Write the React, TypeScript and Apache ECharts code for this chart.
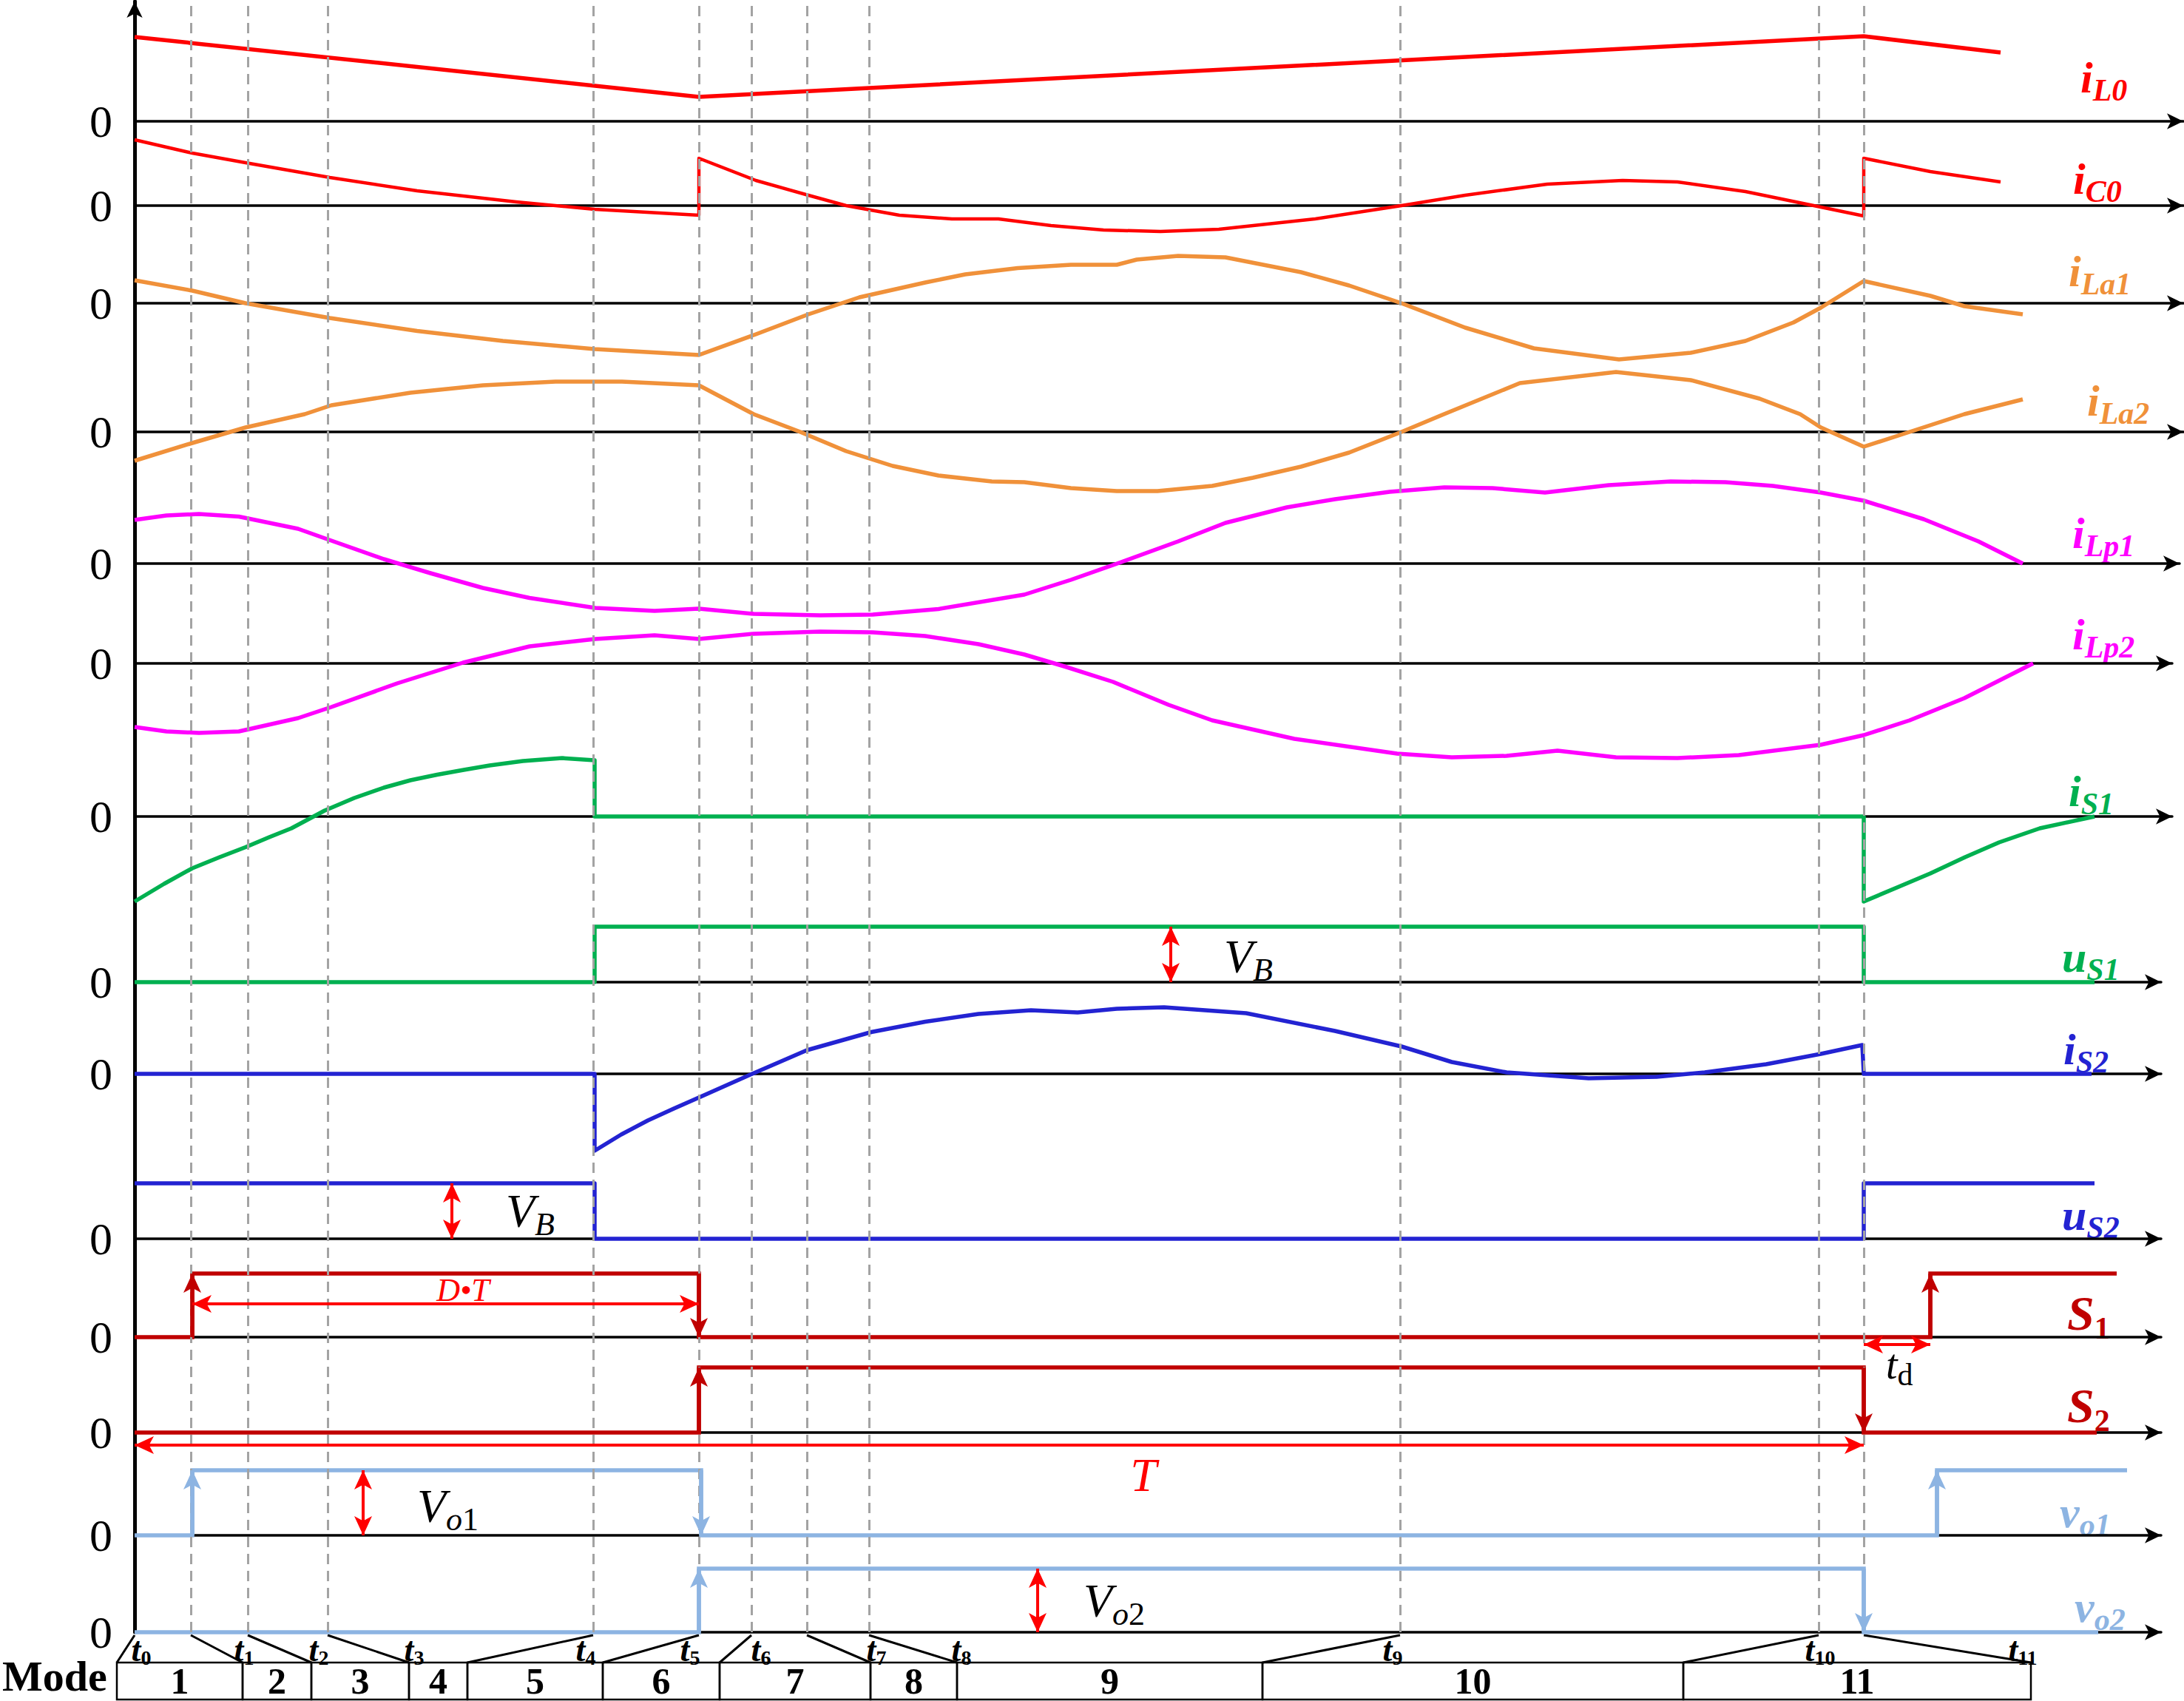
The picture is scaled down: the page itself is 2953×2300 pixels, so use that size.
import React, { useEffect, useRef } from 'react';
import * as echarts from 'echarts';

const W = 2953;
const H = 2300;
const FONT = '"Liberation Serif", "Times New Roman", Times, serif';

// ---------- data (time units on x, amplitude units on y; one unit = 10 px) ----------
// switching instants t0..t11
const tInstants = [0, 7.6, 15.3, 26.1, 62.0, 76.3, 83.4, 90.9, 99.3, 171.1, 227.7, 233.8];
const tNames = ['0', '1', '2', '3', '4', '5', '6', '7', '8', '9', '10', '11'];
// operating-mode table boundaries and names
const modeBounds = [-2.4, 14.6, 23.9, 37.1, 45.0, 63.3, 79.1, 99.5, 111.2, 152.5, 209.4, 256.4];
const modeNames = ['1', '2', '3', '4', '5', '6', '7', '8', '9', '10', '11'];
const tLabelAt = [0.9, 14.8, 24.9, 37.8, 61.0, 75.1, 84.7, 100.3, 111.8, 170.1, 227.9, 255.3];

const iL0 = [[0, 11.4], [76.3, 3.3], [233.8, 11.5], [252.3, 9.3]];
const iC0 = [
  [0, 8.9], [7.8, 7.1], [15.0, 5.8], [26.4, 3.8], [38.2, 2.0], [51.6, 0.5], [62.2, -0.5], [76.3, -1.3],
  [76.3, 6.4], [84.0, 3.4], [91.1, 1.4], [96.2, 0], [103.4, -1.3], [110.5, -1.8], [116.8, -1.8],
  [123.9, -2.7], [131.0, -3.3], [138.7, -3.5], [146.6, -3.2], [159.6, -1.8], [171.3, 0], [179.9, 1.4],
  [191.0, 2.9], [201.2, 3.4], [208.6, 3.2], [217.8, 1.9], [228.0, -0.2], [233.8, -1.4],
  [233.8, 6.4], [242.8, 4.6], [252.3, 3.2],
];
const iLa1 = [
  [0, 3.1], [7.8, 1.7], [15.0, 0], [26.4, -2.0], [38.2, -3.75], [49.8, -5.1], [62.2, -6.2], [76.3, -7.0],
  [84.0, -4.2], [91.1, -1.5], [98.0, 0.8], [106.9, 2.8], [112.3, 3.9], [119.4, 4.75], [126.6, 5.2],
  [132.8, 5.2], [135.5, 5.9], [141.1, 6.4], [147.5, 6.2], [157.7, 4.2], [164.2, 2.4], [171.3, 0],
  [179.9, -3.3], [189.2, -6.1], [200.7, -7.6], [210.4, -6.7], [217.8, -5.1], [224.3, -2.6],
  [228.0, -0.6], [233.8, 3.0], [242.8, 1.0], [247.4, -0.4], [255.3, -1.5],
];
const iLa2 = [
  [0, -3.9], [7.8, -1.5], [15.0, 0.6], [23.0, 2.4], [26.6, 3.6], [37.3, 5.3], [47.1, 6.3], [56.9, 6.8],
  [65.9, 6.8], [76.3, 6.3], [83.7, 2.4], [90.0, 0], [96.2, -2.6], [102.5, -4.6], [108.7, -5.9],
  [115.9, -6.7], [120.3, -6.8], [126.6, -7.6], [132.8, -8.0], [138.3, -8.0], [145.7, -7.3],
  [151.2, -6.2], [157.7, -4.7], [164.2, -2.8], [171.3, 0], [176.8, 2.3], [187.3, 6.6], [200.3, 8.1],
  [210.4, 7.0], [219.7, 4.5], [225.2, 2.4], [228.0, 0.6], [233.8, -2.0], [240.0, 0], [247.4, 2.4],
  [255.3, 4.4],
];
const iLp1 = [
  [0, 5.9], [4.3, 6.5], [8.7, 6.7], [14.1, 6.35], [22.1, 4.7], [26.6, 3.1], [33.7, 0.6], [40.0, -1.3],
  [47.1, -3.3], [53.4, -4.65], [62.3, -6.0], [70.3, -6.4], [76.3, -6.1], [83.7, -6.8], [92.7, -7.0],
  [99.8, -6.9], [108.7, -6.15], [120.3, -4.2], [126.6, -2.2], [132.3, -0.2], [141.1, 3.0],
  [147.5, 5.5], [155.8, 7.6], [162.3, 8.7], [169.7, 9.7], [177.1, 10.3], [183.6, 10.2], [190.7, 9.6],
  [199.3, 10.6], [207.7, 11.1], [215.1, 11.0], [221.5, 10.5], [228.0, 9.6], [233.8, 8.5],
  [241.9, 6.0], [249.3, 3.0], [255.3, 0],
];
const iLp2 = [
  [0, -8.6], [4.3, -9.2], [8.7, -9.4], [14.1, -9.2], [22.1, -7.4], [26.6, -5.9], [35.5, -2.7],
  [44.4, 0.1], [53.4, 2.3], [62.3, 3.3], [70.3, 3.8], [76.3, 3.3], [83.7, 4.0], [92.7, 4.3],
  [99.8, 4.2], [106.9, 3.7], [114.1, 2.6], [120.3, 1.2], [125.7, -0.4], [132.3, -2.5], [139.8, -5.6],
  [145.7, -7.7], [156.8, -10.2], [170.7, -12.2], [178.1, -12.7], [185.5, -12.5], [192.4, -11.8],
  [200.3, -12.7], [208.6, -12.8], [216.9, -12.4], [228.0, -11.0], [233.8, -9.7], [240.0, -7.7],
  [247.4, -4.7], [256.7, 0],
];
const iS1 = [
  [0, -11.5], [4.0, -9.1], [7.8, -7.0], [11.5, -5.5], [15.0, -4.15], [18.2, -2.8], [21.2, -1.6],
  [25.7, 0.8], [29.7, 2.5], [33.7, 3.9], [37.3, 4.9], [40.9, 5.65], [44.5, 6.3], [48.0, 6.9],
  [52.5, 7.5], [57.8, 7.9], [62.2, 7.6], [62.2, 0], [233.8, 0], [233.8, -11.5],
  [238.3, -9.6], [242.8, -7.7], [247.5, -5.5], [252.1, -3.5], [257.6, -1.6], [265.0, 0],
];
const uS1 = [[0, 0], [62.2, 0], [62.2, 7.5], [233.8, 7.5], [233.8, 0], [265.0, 0]];
const iS2 = [
  [0, 0], [62.2, 0], [62.2, -10.4], [65.8, -8.2], [69.4, -6.3], [72.9, -4.7], [76.3, -3.2], [83.5, 0],
  [90.9, 3.2], [99.6, 5.65], [106.9, 7.05], [114.1, 8.1], [121.2, 8.6], [127.5, 8.3], [132.8, 8.8],
  [139.2, 9.0], [150.3, 8.2], [162.3, 5.8], [171.3, 3.7], [178.1, 1.6], [185.5, 0.2], [196.6, -0.6],
  [205.8, -0.4], [212.3, 0.2], [220.6, 1.3], [228.0, 2.7], [233.6, 3.9], [233.8, 0], [264.6, 0],
];
const uS2 = [[0, 7.5], [62.2, 7.5], [62.2, 0], [233.8, 0], [233.8, 7.5], [265.0, 7.5]];
const S1 = [[0, 0], [7.8, 0], [7.8, 8.6], [76.3, 8.6], [76.3, 0], [242.8, 0], [242.8, 8.6], [268.0, 8.6]];
const S2 = [[0, 0], [76.3, 0], [76.3, 8.8], [233.8, 8.8], [233.8, 0], [265.3, 0]];
const vo1 = [[0, 0], [7.8, 0], [7.8, 8.8], [76.6, 8.8], [76.6, 0], [243.7, 0], [243.7, 8.8], [269.4, 8.8]];
const vo2 = [[0, 0], [76.3, 0], [76.3, 8.6], [233.8, 8.6], [233.8, 0], [265.5, 0]];

// dimension arrows (double-headed, red)
const dimArrows = [
  { row: 'uS1', from: [140.1, 0], to: [140.1, 7.5] },
  { row: 'uS2', from: [42.9, 0], to: [42.9, 7.5] },
  { row: 'S1', from: [7.8, 4.5], to: [76.3, 4.5] },
  { row: 'S1', from: [233.8, -1.0], to: [242.8, -1.0] },
  { row: 'S2', from: [0, -1.7], to: [233.8, -1.7] },
  { row: 'vo1', from: [30.9, 0], to: [30.9, 8.8] },
  { row: 'vo2', from: [122.1, 0], to: [122.1, 8.6] },
];

// ---------- styles / layout ----------
const RED = '#FF0000';
const ORANGE = '#F0913A';
const MAGENTA = '#FF00FF';
const GREEN = '#00B050';
const BLUE = '#2323D2';
const DRED = '#C00000';
const LBLUE = '#8DB4E2';

const PX = 10; // px per unit
const AX_LEFT = 182;
const UP = 14;
const STEP = 7;

type Row = {
  key: string; data: number[][]; color: string; base: number; tip: number;
  main: string; sub: string; lx: number; ly: number; arrows?: boolean; lw?: number; mainSize?: number;
  down?: number;
};

const ROWS: Row[] = [
  { key: 'iL0', data: iL0, color: RED, base: 164, tip: 2952, main: 'i', sub: 'L0', lx: 2813, ly: 105 },
  { key: 'iC0', data: iC0, color: RED, base: 278, tip: 2952, main: 'i', sub: 'C0', lx: 2803, ly: 242, lw: 4.5 },
  { key: 'iLa1', data: iLa1, color: ORANGE, base: 410, tip: 2952, main: 'i', sub: 'La1', lx: 2797, ly: 367 },
  { key: 'iLa2', data: iLa2, color: ORANGE, base: 584, tip: 2952, main: 'i', sub: 'La2', lx: 2822, ly: 542 },
  { key: 'iLp1', data: iLp1, color: MAGENTA, base: 762, tip: 2947, main: 'i', sub: 'Lp1', lx: 2802, ly: 721 },
  { key: 'iLp2', data: iLp2, color: MAGENTA, base: 897, tip: 2937, main: 'i', sub: 'Lp2', lx: 2802, ly: 858 },
  { key: 'iS1', data: iS1, color: GREEN, base: 1104, tip: 2937, main: 'i', sub: 'S1', lx: 2797, ly: 1070 },
  { key: 'uS1', data: uS1, color: GREEN, base: 1328, tip: 2922, main: 'u', sub: 'S1', lx: 2788, ly: 1294 },
  { key: 'iS2', data: iS2, color: BLUE, base: 1452, tip: 2922, main: 'i', sub: 'S2', lx: 2790, ly: 1419 },
  { key: 'uS2', data: uS2, color: BLUE, base: 1675, tip: 2922, main: 'u', sub: 'S2', lx: 2788, ly: 1643 },
  { key: 'S1', data: S1, color: DRED, base: 1808, tip: 2922, main: 'S', sub: '1', lx: 2795, ly: 1775, arrows: true, mainSize: 66 },
  { key: 'S2', data: S2, color: DRED, base: 1937, tip: 2922, main: 'S', sub: '2', lx: 2795, ly: 1900, arrows: true, mainSize: 66 },
  { key: 'vo1', data: vo1, color: LBLUE, base: 2076, tip: 2922, main: 'v', sub: 'o1', lx: 2785, ly: 2045, arrows: true },
  { key: 'vo2', data: vo2, color: LBLUE, base: 2207, tip: 2922, main: 'v', sub: 'o2', lx: 2805, ly: 2173, arrows: true, down: 7 },
];

function stepEdges(data: number[][]) {
  const out: number[][][] = [];
  for (let j = 1; j < data.length; j++) {
    if (data[j][0] === data[j - 1][0] && data[j][1] !== data[j - 1][1]) out.push([data[j - 1], data[j]]);
  }
  return out;
}

function subText(main: string, sub: string, color: string, mainSize: number, subSize: number, bold: boolean, subUpright = false, extra?: string) {
  const base = { fontFamily: FONT, fill: color, fontWeight: bold ? 'bold' : 'normal' };
  const rich: any = {
    m: { ...base, fontSize: mainSize, fontStyle: 'italic', lineHeight: Math.round(mainSize * 1.25) },
    s: { ...base, fontSize: subSize, fontStyle: subUpright ? 'normal' : 'italic', lineHeight: subSize, verticalAlign: 'bottom' },
    u: { ...base, fontSize: subSize, fontStyle: 'normal', lineHeight: subSize, verticalAlign: 'bottom' },
  };
  return {
    text: `{m|${main}}{s|${sub}}` + (extra ? `{u|${extra}}` : ''),
    rich,
    align: 'left',
    verticalAlign: 'middle',
  };
}

function buildOption() {
  const grid: any[] = [];
  const xAxis: any[] = [];
  const yAxis: any[] = [];
  const series: any[] = [];
  const graphic: any[] = [];
  const hiddenAxisParts = { axisTick: { show: false }, axisLabel: { show: false }, splitLine: { show: false } };

  // frame: main vertical axis + dashed instants
  grid.push({ left: AX_LEFT, top: 2, width: 2770, height: 2205 });
  xAxis.push({ gridIndex: 0, type: 'value', min: 0, max: 277, show: false });
  yAxis.push({
    gridIndex: 0, type: 'value', min: 0, max: 1,
    axisLine: { show: true, onZero: false, symbol: ['none', 'arrow'], symbolSize: [16, 22], lineStyle: { color: '#000', width: 5 } },
    ...hiddenAxisParts,
  });
  series.push({
    type: 'line', xAxisIndex: 0, yAxisIndex: 0, data: [[0, 0], [0, 1]], silent: true, showSymbol: false,
    lineStyle: { opacity: 0 },
    markLine: {
      silent: true, symbol: ['none', 'none'], label: { show: false },
      lineStyle: { type: [14, 9], color: '#a3a3a3', width: 3 },
      data: tInstants.slice(1).map((t) => ({ xAxis: t })),
    },
  });

  const rowIndex: Record<string, number> = {};
  ROWS.forEach((r, i) => {
    const k = i + 1;
    rowIndex[r.key] = k;
    const width = r.tip - AX_LEFT;
    const down = r.down ?? 14;
    grid.push({ left: AX_LEFT, top: r.base - UP * PX, width, height: (UP + down) * PX });
    xAxis.push({
      gridIndex: k, type: 'value', min: 0, max: width / PX,
      axisLine: { show: true, onZero: true, symbol: ['none', 'arrow'], symbolSize: [16, 22], lineStyle: { color: '#000', width: 3.5 } },
      ...hiddenAxisParts,
    });
    yAxis.push({
      gridIndex: k, type: 'value', min: -down, max: UP, interval: STEP,
      axisLine: { show: false }, axisTick: { show: false }, splitLine: { show: false },
      axisLabel: { formatter: (v: number) => (v === 0 ? '0' : ''), fontSize: 62, fontFamily: FONT, color: '#000', margin: 30 },
    });
    const s: any = {
      name: r.key, type: 'line', xAxisIndex: k, yAxisIndex: k, data: r.data, showSymbol: false, symbol: 'none',
      silent: true, z: 3,
      lineStyle: { color: r.color, width: r.lw ?? 5.5, join: 'round' },
    };
    if (r.arrows) {
      s.lineStyle.join = 'miter';
      s.markLine = {
        silent: true, symbol: ['none', 'arrow'], symbolSize: [18, 26], label: { show: false },
        lineStyle: { color: r.color, width: 5.5, type: 'solid' },
        data: stepEdges(r.data).map(([a, b]) => [{ coord: a }, { coord: b }]),
      };
    }
    series.push(s);
    const ms = r.mainSize ?? 60;
    graphic.push({
      type: 'text', x: r.lx, y: r.ly, silent: true,
      style: subText(r.main, r.sub, r.color, ms, 42, true, r.main === 'S'),
    });
  });

  dimArrows.forEach((a) => {
    const k = rowIndex[a.row];
    series.push({
      type: 'line', xAxisIndex: k, yAxisIndex: k, data: [a.from, a.to], silent: true, showSymbol: false,
      lineStyle: { opacity: 0 }, z: 4,
      markLine: {
        silent: true, symbol: ['arrow', 'arrow'], symbolSize: [18, 26], label: { show: false },
        lineStyle: { color: RED, width: 4, type: 'solid' },
        data: [[{ coord: a.from }, { coord: a.to }]],
      },
    });
  });

  // mode table
  const tk = grid.length;
  grid.push({ left: AX_LEFT, top: 2207, width: 2770, height: 92 });
  xAxis.push({ gridIndex: tk, type: 'value', min: 0, max: 277, show: false });
  yAxis.push({ gridIndex: tk, type: 'value', min: 0, max: 1, show: false });
  series.push({
    type: 'custom', xAxisIndex: tk, yAxisIndex: tk, silent: true, clip: false,
    data: modeNames.map((_, i) => [modeBounds[i], modeBounds[i + 1], i]),
    renderItem: (params: any, api: any) => {
      const cs = params.coordSys;
      const x0 = api.coord([api.value(0), 0])[0];
      const x1 = api.coord([api.value(1), 0])[0];
      const top = cs.y + 41;
      const bottom = cs.y + 91;
      return {
        type: 'group',
        children: [
          { type: 'rect', shape: { x: x0, y: top, width: x1 - x0, height: bottom - top }, style: { fill: 'none', stroke: '#000', lineWidth: 2.5 } },
          {
            type: 'text',
            style: {
              text: modeNames[api.value(2)], x: (x0 + x1) / 2, y: (top + bottom) / 2, align: 'center', verticalAlign: 'middle',
              fontSize: 50, fontWeight: 'bold', fontFamily: FONT, fill: '#000',
            },
          },
        ],
      };
    },
  });
  series.push({
    type: 'custom', xAxisIndex: tk, yAxisIndex: tk, silent: true, clip: false,
    data: tInstants.map((t, i) => [t, modeBounds[i], tLabelAt[i], i]),
    renderItem: (params: any, api: any) => {
      const cs = params.coordSys;
      const xt = api.coord([api.value(0), 0])[0];
      const xb = api.coord([api.value(1), 0])[0];
      const xl = api.coord([api.value(2), 0])[0];
      const idx = api.value(3);
      return {
        type: 'group',
        children: [
          { type: 'line', shape: { x1: xt, y1: cs.y + 4, x2: xb, y2: cs.y + 41 }, style: { stroke: '#000', lineWidth: 3 } },
          {
            type: 'text',
            style: {
              text: `{t|t}{s|${tNames[idx]}}`, x: xl, y: cs.y + 23, align: 'center', verticalAlign: 'middle',
              rich: {
                t: { fontSize: 46, fontStyle: 'italic', fontWeight: 'bold', fontFamily: FONT, fill: '#000', lineHeight: 50 },
                s: { fontSize: 28, fontWeight: 'bold', fontFamily: FONT, fill: '#000', lineHeight: 28, verticalAlign: 'bottom' },
              },
            },
          },
        ],
      };
    },
  });

  // annotation texts
  graphic.push({ type: 'text', x: 1655, y: 1293, silent: true, style: subText('V', 'B', '#000', 64, 44, false) });
  graphic.push({ type: 'text', x: 684, y: 1637, silent: true, style: subText('V', 'B', '#000', 64, 44, false) });
  graphic.push({ type: 'text', x: 564, y: 2036, silent: true, style: subText('V', 'o', '#000', 64, 44, false, false, '1') });
  graphic.push({ type: 'text', x: 1465, y: 2164, silent: true, style: subText('V', 'o', '#000', 64, 44, false, false, '2') });
  graphic.push({ type: 'text', x: 2550, y: 1845, silent: true, style: subText('t', 'd', '#000', 56, 42, false, true) });
  graphic.push({
    type: 'text', x: 626, y: 1744, silent: true,
    style: { text: 'D•T', fontSize: 44, fontStyle: 'italic', fontFamily: FONT, fill: RED, align: 'center', verticalAlign: 'middle' },
  });
  graphic.push({
    type: 'text', x: 1546, y: 1994, silent: true,
    style: { text: 'T', fontSize: 64, fontStyle: 'italic', fontFamily: FONT, fill: RED, align: 'center', verticalAlign: 'middle' },
  });
  graphic.push({
    type: 'text', x: 3, y: 2266, silent: true,
    style: { text: 'Mode', fontSize: 58, fontWeight: 'bold', fontFamily: FONT, fill: '#000', align: 'left', verticalAlign: 'middle' },
  });

  return {
    animation: false,
    backgroundColor: '#fff',
    grid, xAxis, yAxis, series, graphic,
  };
}

export default function App() {
  const ref = useRef<HTMLDivElement>(null);
  useEffect(() => {
    const chart = echarts.init(ref.current!, null, { renderer: 'svg' });
    chart.setOption(buildOption() as any);
    return () => chart.dispose();
  }, []);
  return <div ref={ref} style={{ position: 'absolute', left: 0, top: 0, width: W, height: H, background: '#fff' }} />;
}
